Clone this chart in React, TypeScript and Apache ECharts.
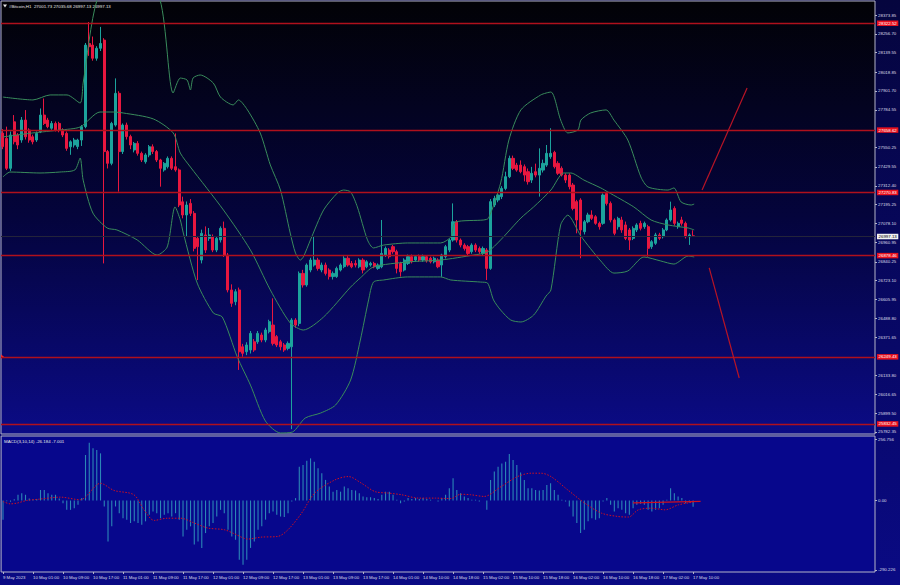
import React, { useEffect, useRef } from 'react';
import * as echarts from 'echarts';

const TITLE = '#Bitcoin,H1  27001.73 27035.68 26997.13 26997.13';
const MACD_TITLE = 'MACD(3,10,14) -26.184 -7.001';

const TIME_LABELS = [
  '9 May 2023', '10 May 01:00', '10 May 09:00', '10 May 17:00', '11 May 01:00', '11 May 09:00',
  '11 May 17:00', '12 May 01:00', '12 May 09:00', '12 May 17:00', '13 May 01:00', '13 May 09:00',
  '13 May 17:00', '14 May 01:00', '14 May 10:00', '14 May 18:00', '15 May 02:00', '15 May 10:00',
  '15 May 18:00', '16 May 02:00', '16 May 10:00', '16 May 18:00', '17 May 02:00', '17 May 10:00',
];
const LABEL_STEP = 8;
const SLOTS = 233;

// [open, close, low, high]
const CANDLES = [
  [27640, 27556, 27540, 27665], [27607, 27421, 27410, 27680], [27421, 27628, 27405, 27650], [27710, 27586, 27570, 27752],
  [27628, 27566, 27540, 27640], [27597, 27721, 27580, 27740], [27721, 27617, 27600, 27783], [27659, 27597, 27580, 27670],
  [27617, 27586, 27570, 27630], [27597, 27638, 27585, 27650], [27648, 27752, 27640, 27793], [27752, 27700, 27690, 27855],
  [27721, 27680, 27670, 27735], [27670, 27700, 27660, 27715], [27700, 27659, 27650, 27712], [27700, 27659, 27645, 27710],
  [27659, 27628, 27615, 27670], [27638, 27545, 27530, 27650], [27555, 27586, 27505, 27595], [27566, 27597, 27550, 27610],
  [27556, 27597, 27540, 27605], [27597, 27680, 27560, 27690], [27680, 28187, 27670, 28200], [28197, 28177, 28120, 28330],
  [28187, 28105, 28090, 28240], [28105, 28167, 28090, 28180], [28167, 28197, 28150, 28300], [28218, 27525, 26830, 28230],
  [27525, 27452, 27420, 27535], [27452, 27700, 27440, 27710], [27690, 27887, 27680, 27980], [27887, 27525, 27276, 27900],
  [27525, 27690, 27510, 27700], [27690, 27618, 27600, 27705], [27618, 27566, 27540, 27630], [27535, 27576, 27520, 27585],
  [27576, 27514, 27500, 27590], [27514, 27473, 27460, 27525], [27462, 27504, 27450, 27515], [27504, 27555, 27490, 27566],
  [27555, 27525, 27510, 27570], [27525, 27473, 27460, 27535], [27473, 27421, 27307, 27480], [27411, 27452, 27400, 27460],
  [27431, 27483, 27420, 27495], [27483, 27421, 27410, 27495], [27431, 27411, 27400, 27638], [27411, 27193, 27180, 27420],
  [27213, 27131, 27110, 27245], [27131, 27193, 26996, 27215], [27203, 27141, 27125, 27230], [27141, 26924, 26905, 27155],
  [26986, 26934, 26727, 27000], [26851, 27017, 26830, 27040], [27007, 26913, 26895, 27060], [26986, 27007, 26970, 27050],
  [26996, 26913, 26900, 27010], [26913, 26986, 26900, 27000], [26976, 27048, 26960, 27060], [27048, 26882, 26870, 27090],
  [26882, 26665, 26650, 26895], [26665, 26582, 26560, 26700], [26592, 26654, 26570, 26670], [26665, 26281, 26168, 26680],
  [26312, 26271, 26250, 26330], [26281, 26323, 26260, 26340], [26292, 26395, 26270, 26410], [26343, 26292, 26280, 26360],
  [26343, 26395, 26330, 26410], [26385, 26354, 26340, 26400], [26354, 26416, 26340, 26430], [26406, 26468, 26395, 26480],
  [26447, 26333, 26320, 26613], [26375, 26323, 26310, 26385], [26343, 26312, 26290, 26355], [26323, 26292, 26280, 26335],
  [26302, 26333, 26290, 26345], [26312, 26478, 25800, 26490], [26478, 26447, 26430, 26490], [26457, 26768, 26440, 26780],
  [26768, 26696, 26680, 26790], [26696, 26820, 26685, 26830], [26789, 26851, 26775, 26865], [26820, 26851, 26810, 26996],
  [26851, 26799, 26785, 26865], [26789, 26820, 26775, 26835], [26820, 26768, 26755, 26835], [26789, 26748, 26730, 26800],
  [26748, 26768, 26730, 26780], [26748, 26799, 26740, 26810], [26789, 26820, 26780, 26830], [26810, 26862, 26800, 26875],
  [26862, 26820, 26810, 26875], [26830, 26809, 26800, 26845], [26830, 26820, 26805, 26850], [26809, 26851, 26800, 26862],
  [26851, 26789, 26768, 26862], [26809, 26840, 26800, 26850], [26820, 26830, 26810, 26840], [26830, 26809, 26800, 26840],
  [26799, 26820, 26790, 26830], [26809, 26892, 26800, 27100], [26882, 26923, 26870, 26935], [26913, 26872, 26860, 26925],
  [26934, 26903, 26890, 26945], [26903, 26799, 26768, 26915], [26830, 26778, 26748, 26840], [26789, 26851, 26780, 26862],
  [26830, 26872, 26820, 26885], [26872, 26840, 26830, 26885], [26851, 26872, 26840, 26882], [26872, 26851, 26840, 26885],
  [26851, 26872, 26840, 26885], [26872, 26847, 26835, 26882], [26862, 26840, 26830, 26872], [26840, 26862, 26830, 26872],
  [26851, 26809, 26800, 26862], [26820, 26882, 26747, 26890], [26872, 26934, 26860, 26945], [26913, 26975, 26900, 26985],
  [26975, 27089, 26965, 27203], [27089, 26975, 26960, 27100], [26975, 26944, 26930, 26985], [26944, 26923, 26910, 26955],
  [26934, 26892, 26880, 26945], [26903, 26944, 26890, 26955], [26944, 26913, 26900, 26955], [26923, 26903, 26890, 26935],
  [26892, 26923, 26880, 26935], [26913, 26799, 26727, 26925], [26799, 27214, 26790, 27230], [27193, 27234, 27180, 27250],
  [27224, 27255, 27210, 27265], [27245, 27296, 27230, 27310], [27296, 27369, 27285, 27400], [27369, 27483, 27360, 27500],
  [27483, 27421, 27410, 27500], [27441, 27410, 27400, 27455], [27441, 27400, 27390, 27470], [27431, 27379, 27340, 27445],
  [27400, 27338, 27320, 27420], [27348, 27390, 27330, 27430], [27400, 27379, 27365, 27450], [27379, 27421, 27245, 27545],
  [27410, 27452, 27395, 27475], [27441, 27514, 27430, 27566], [27493, 27514, 27480, 27670], [27520, 27431, 27420, 27530],
  [27452, 27390, 27380, 27465], [27421, 27379, 27370, 27433], [27379, 27348, 27330, 27390], [27379, 27307, 27290, 27390],
  [27317, 27172, 27160, 27330], [27214, 27100, 27017, 27225], [27224, 27038, 26862, 27235], [27027, 27089, 27010, 27100],
  [27089, 27131, 27080, 27145], [27131, 27110, 27100, 27160], [27120, 27079, 27070, 27130], [27079, 27058, 27040, 27090],
  [27079, 27255, 27070, 27265], [27265, 27203, 27190, 27276], [27203, 27100, 27085, 27215], [27100, 27017, 27005, 27110],
  [27058, 27110, 27040, 27120], [27100, 27038, 27020, 27120], [27069, 26986, 26975, 27090], [27038, 26975, 26913, 27050],
  [26986, 27048, 26975, 27060], [27038, 27069, 27025, 27080], [27079, 27048, 27035, 27095], [27058, 27079, 27045, 27090],
  [27058, 26924, 26872, 27070], [26934, 26965, 26920, 26975], [26955, 27007, 26945, 27020], [27007, 26986, 26975, 27020],
  [26996, 27038, 26985, 27050], [27038, 27100, 27030, 27110], [27100, 27162, 27090, 27214], [27172, 27079, 27065, 27185],
  [27058, 27079, 27045, 27090], [27100, 27079, 27065, 27120], [27079, 26996, 26985, 27090], [26996, 27007, 26945, 27017],
  [27001.73, 26997.13, 26997.13, 27035.68],
];

const UPPER_BAND = [
  [0, 27864], [8.0, 27846], [12.6, 27877], [17.1, 27877], [20.6, 27827], [21.4, 27951], [25.1, 28467], [33.4, 28840],
  [41.9, 28467], [45.4, 27889], [47.3, 27982], [49.1, 27970], [50.0, 27908], [50.7, 27982], [52.6, 28001], [56.1, 27951],
  [58.0, 27864], [61.4, 27815], [62.8, 27846], [65.2, 27784], [68.6, 27641], [71.3, 27442], [74.0, 27286], [76.6, 27019],
  [78.0, 26895], [79.3, 26851], [80.1, 26870], [82.0, 26976], [85.5, 27162], [89.2, 27268], [90.8, 27286], [92.7, 27274],
  [94.5, 27181], [97.2, 26976], [98.8, 26926], [101.5, 26944], [107.9, 26957], [116.7, 26957], [119.4, 26994], [120.7, 27087],
  [128.2, 27100], [129.5, 27112], [132.7, 27330], [134.9, 27597], [138.1, 27784], [143.4, 27877], [146.1, 27895], [148.7, 27721],
  [150.6, 27641], [153.3, 27659], [154.1, 27721], [156.7, 27765], [160.8, 27784], [162.9, 27721], [166.6, 27597], [170.1, 27367],
  [172.0, 27305], [177.3, 27286], [178.9, 27299], [180.8, 27212], [183.5, 27193], [184.3, 27199],
];
const MIDDLE_BAND = [
  [0, 27616], [8.0, 27641], [15.2, 27659], [20.6, 27678], [25.9, 27771], [29.4, 27771], [32.1, 27765], [40.1, 27728],
  [45.4, 27641], [47.3, 27516], [50.0, 27429], [58.8, 27162], [66.0, 26913], [71.3, 26665], [76.6, 26460], [80.1, 26416],
  [85.5, 26497], [92.7, 26683], [95.3, 26740], [98.8, 26808], [107.9, 26839], [116.7, 26851], [125.5, 26882], [129.2, 26901],
  [132.7, 26976], [138.1, 27112], [141.5, 27181], [146.1, 27286], [149.5, 27392], [151.4, 27392], [154.9, 27348], [159.4, 27299],
  [161.3, 27274], [168.2, 27181], [172.8, 27100], [177.3, 27069], [182.7, 27050], [184.3, 27038],
];
const LOWER_BAND = [
  [0, 27367], [1.9, 27398], [9.9, 27392], [15.2, 27398], [19.2, 27411], [20.6, 27485], [21.4, 27348], [24.0, 27143],
  [27.8, 27050], [30.4, 27038], [35.8, 26976], [41.1, 26882], [43.8, 26932], [45.9, 27181], [47.3, 27100], [48.1, 27019],
  [51.8, 26708], [56.1, 26522], [58.5, 26497], [62.5, 26248], [66.0, 26074], [70.0, 25850], [74.0, 25776], [77.2, 25782],
  [80.6, 25869], [84.7, 25900], [88.7, 25950], [92.7, 26105], [95.3, 26354], [97.5, 26603], [98.8, 26714], [101.5, 26727],
  [107.9, 26746], [116.7, 26746], [119.4, 26727], [127.4, 26714], [129.2, 26708], [130.8, 26603], [132.7, 26540], [135.4, 26478],
  [138.1, 26466], [141.5, 26509], [144.8, 26627], [146.1, 26665], [148.7, 27069], [150.6, 27130], [154.1, 27000], [159.4, 26845],
  [162.9, 26770], [166.6, 26783], [170.9, 26870], [175.4, 26845], [178.9, 26826], [182.7, 26876], [184.3, 26870],
];

const PRICE_TICKS = [
  25782.35, 25899.5, 26016.65, 26133.8, 26371.65, 26488.8, 26605.95, 26723.1, 26840.25, 26960.95, 27078.1,
  27195.25, 27312.4, 27429.55, 27550.25, 27784.55, 27901.7, 28018.85, 28139.55, 28256.7, 28373.85,
];
const PRICE_MIN = 25769.8;
const PRICE_MAX = 28460.9;
const LEVELS = [28322.52, 27658.62, 27270.83, 26878.46, 26249.43, 25832.45];
const LAST_PRICE = 26997.13;
const ARROW_UP = [[186.4, 27286], [198.4, 27920]];
const ARROW_DOWN = [[188.3, 26802], [196.3, 26118]];

const MACD_HIST = [
  -80, -3, -5, 5, 24, 30, 24, 8, 4, 6, 44, 44, 30, 24, 24, 8, -11, -39, -39, -32,
  -18, 10, 190, 241, 218, 211, 197, -25, -171, -108, -25, -53, -74, -80, -94, -87, -94, -101, -87, -60,
  -46, -53, -74, -60, -53, -67, -53, -80, -150, -122, -108, -184, -171, -198, -136, -108, -94, -67, -39, -53,
  -122, -150, -164, -247, -268, -247, -198, -171, -122, -108, -80, -53, -46, -60, -67, -69, -53, -4, 10, 141,
  148, 166, 176, 162, 135, 114, 86, 58, 37, 44, 37, 58, 51, 44, 42, 30, 17, 14, 14, 10,
  6, 24, 37, 37, 24, 3, -11, -4, 10, 6, 10, 6, 10, 6, 3, 0, -4, 10, 24, 51,
  93, 44, 30, 17, 10, 3, 3, -4, 0, -39, 86, 121, 141, 155, 162, 194, 169, 148, 117, 86,
  51, 51, 44, 42, 44, 65, 72, 44, 24, 3, -4, -25, -67, -94, -136, -122, -87, -74, -80, -74,
  -4, 10, -18, -46, -32, -39, -53, -60, -32, -18, -14, -18, -39, -46, -39, -32, -18, 3, 51, 30,
  17, 10, -11, -8, -26.184,
];
const MACD_SIGNAL = [
  [0, -4], [1.9, -14], [3.7, -11], [6.3, 0], [9.9, 6], [15.3, 14], [20.6, 3], [26, 72], [29.6, 42], [34.9, 24],
  [37.6, -39], [40.3, -83], [43.8, -74], [47.4, -74], [51, -94], [54.6, -115], [59, -122], [61.7, -139], [65.3, -161],
  [68.8, -153], [73.3, -150], [76, -122], [79.6, -53], [83.1, 31], [88.5, 86], [92.1, 100], [95.6, 72], [99.2, 37],
  [102.8, 31], [106.3, 24], [110.8, 10], [115.3, 10], [119.4, 8], [122, 26], [124.7, 24], [128.3, 17], [132.8, 58],
  [137.2, 100], [140.8, 114], [143.5, 114], [146.1, 100], [150.6, 44], [155.1, -11], [159.6, -53], [164.1, -67],
  [166.8, -69], [169.4, -39], [173, -32], [176.5, -39], [180.1, -18], [184, -7.001],
];
const MACD_SEGMENT = [[168, -10], [186, -4]];
const MACD_TICKS = [-290.226, 0, 256.756];
const MACD_MIN = -298.6;
const MACD_MAX = 269.4;

const FONT = 'Liberation Sans';
const AXIS_TEXT = '#dcdce8';
const FRAME = '#b4b4c8';
const BULL = '#1ca39c';
const BEAR = '#e8173f';
const BAND = '#3a8c5c';
const LEVEL = '#b0101c';

function buildOption() {
  const categories = Array.from({ length: SLOTS }, (_, i) => 'c' + i);
  const timeLabel = (_v: any, idx: number) =>
    idx % LABEL_STEP === 0 && idx / LABEL_STEP < TIME_LABELS.length ? TIME_LABELS[idx / LABEL_STEP] : '';
  const tickShown = (idx: number) => idx % LABEL_STEP === 0 && idx / LABEL_STEP < TIME_LABELS.length;
  const levelLabel = (bg: string, fg: string) => ({
    show: true,
    position: 'end',
    distance: 2,
    formatter: (p: any) => Number(p.value).toFixed(2),
    backgroundColor: bg,
    color: fg,
    fontSize: 4.4,
    fontFamily: FONT,
    padding: [1, 1.5, 0.5, 1.5],
  });
  const bandSeries = (data: number[][]) => ({
    type: 'line',
    xAxisIndex: 1,
    yAxisIndex: 0,
    data,
    smooth: 0.25,
    symbol: 'none',
    lineStyle: { color: BAND, width: 1 },
    z: 3,
  });
  const hiddenLine = { show: false, onZero: false };

  return {
    animation: false,
    backgroundColor: 'transparent',
    textStyle: { fontFamily: FONT },
    grid: [
      {
        left: 1, top: 1, width: 874, height: 433, show: true,
        backgroundColor: new echarts.graphic.LinearGradient(0, 0, 0, 1, [
          { offset: 0, color: '#020206' },
          { offset: 0.5, color: '#04043c' },
          { offset: 1, color: '#0b0b86' },
        ]),
        borderColor: FRAME, borderWidth: 1,
      },
      {
        left: 1, top: 436, width: 874, height: 136, show: true,
        backgroundColor: '#07078c', borderColor: FRAME, borderWidth: 1,
      },
    ],
    xAxis: [
      {
        type: 'category', gridIndex: 0, data: categories,
        axisLine: hiddenLine, axisTick: { show: false }, axisLabel: { show: false }, splitLine: { show: false },
      },
      { type: 'value', gridIndex: 0, min: -0.5, max: SLOTS - 0.5, show: false, axisLine: hiddenLine },
      {
        type: 'category', gridIndex: 1, data: categories, position: 'bottom',
        axisLine: hiddenLine,
        axisTick: { show: true, interval: tickShown, alignWithLabel: true, length: 2, lineStyle: { color: FRAME } },
        axisLabel: {
          interval: LABEL_STEP - 1, formatter: timeLabel, fontSize: 4.3, color: AXIS_TEXT,
          align: 'left', margin: 3, fontFamily: FONT,
        },
        splitLine: { show: false },
      },
      { type: 'value', gridIndex: 1, min: -0.5, max: SLOTS - 0.5, show: false, axisLine: hiddenLine },
    ],
    yAxis: [
      {
        type: 'value', gridIndex: 0, position: 'right', min: PRICE_MIN, max: PRICE_MAX,
        splitLine: { show: false }, axisLine: hiddenLine,
        axisTick: { show: true, length: 2, customValues: PRICE_TICKS, lineStyle: { color: FRAME } },
        axisLabel: {
          customValues: PRICE_TICKS, formatter: (v: number) => v.toFixed(2),
          fontSize: 4.4, color: AXIS_TEXT, margin: 3, fontFamily: FONT,
        },
      },
      {
        type: 'value', gridIndex: 1, position: 'right', min: MACD_MIN, max: MACD_MAX,
        splitLine: { show: false }, axisLine: hiddenLine,
        axisTick: { show: true, length: 2, customValues: MACD_TICKS, lineStyle: { color: FRAME } },
        axisLabel: {
          customValues: MACD_TICKS, formatter: (v: number) => (v === 0 ? '0.00' : v.toFixed(3)),
          fontSize: 4.4, color: AXIS_TEXT, margin: 3, fontFamily: FONT,
        },
      },
    ],
    series: [
      {
        type: 'candlestick', xAxisIndex: 0, yAxisIndex: 0, data: CANDLES, barWidth: 2.6,
        itemStyle: { color: BULL, color0: BEAR, borderColor: BULL, borderColor0: BEAR, borderWidth: 1 },
        z: 2,
        markLine: {
          symbol: ['none', 'none'], silent: true, animation: false, z: 4,
          data: [
            ...LEVELS.map((v) => ({
              yAxis: v, lineStyle: { color: LEVEL, width: 1.3, type: 'solid' }, label: levelLabel('#e8101e', '#ffffff'),
            })),
            { yAxis: LAST_PRICE, lineStyle: { color: '#24243a', width: 1, type: 'solid' }, label: levelLabel('#f2f2f2', '#000000') },
          ],
        },
      },
      bandSeries(UPPER_BAND),
      bandSeries(MIDDLE_BAND),
      bandSeries(LOWER_BAND),
      {
        type: 'line', xAxisIndex: 1, yAxisIndex: 0, data: ARROW_UP, symbol: 'none',
        lineStyle: { color: '#b81426', width: 1.2 }, z: 5,
      },
      {
        type: 'line', xAxisIndex: 1, yAxisIndex: 0, data: ARROW_DOWN, symbol: 'none',
        lineStyle: { color: '#b81426', width: 1.2 }, z: 5,
      },
      {
        type: 'bar', xAxisIndex: 2, yAxisIndex: 1, data: MACD_HIST, barWidth: 1.1,
        itemStyle: { color: '#2b86b6' },
      },
      {
        type: 'line', xAxisIndex: 3, yAxisIndex: 1, data: MACD_SIGNAL, symbol: 'none', smooth: 0.3,
        lineStyle: { color: '#d01020', width: 1, type: [1.5, 1.5] }, z: 4,
      },
      {
        type: 'line', xAxisIndex: 3, yAxisIndex: 1, data: MACD_SEGMENT, symbol: 'none',
        lineStyle: { color: '#d01020', width: 1.2 }, z: 5,
      },
    ],
    graphic: [
      { type: 'polygon', shape: { points: [[3, 4.5], [7, 4.5], [5, 7.5]] }, style: { fill: '#e6e6e6' }, silent: true },
      {
        type: 'text', x: 9, y: 6, silent: true,
        style: { text: TITLE, fill: '#e6e6e6', fontSize: 4.4, fontFamily: FONT, verticalAlign: 'middle' },
      },
      {
        type: 'text', x: 4, y: 441, silent: true,
        style: { text: MACD_TITLE, fill: '#e6e6e6', fontSize: 4.4, fontFamily: FONT, verticalAlign: 'middle' },
      },
      { type: 'polygon', shape: { points: [[1, 354.5], [4, 356.8], [1, 359]] }, style: { fill: '#ff2a2a' }, silent: true },
    ],
  };
}

export default function App() {
  const ref = useRef<HTMLDivElement>(null);
  useEffect(() => {
    if (!ref.current) return;
    const chart = echarts.init(ref.current, null, { renderer: 'svg' });
    chart.setOption(buildOption() as any);
    return () => chart.dispose();
  }, []);
  return (
    <div
      ref={ref}
      style={{
        position: 'fixed', left: 0, top: 0, width: 900, height: 585,
        background: 'linear-gradient(#05053e, #0a0a84)',
      }}
    />
  );
}
